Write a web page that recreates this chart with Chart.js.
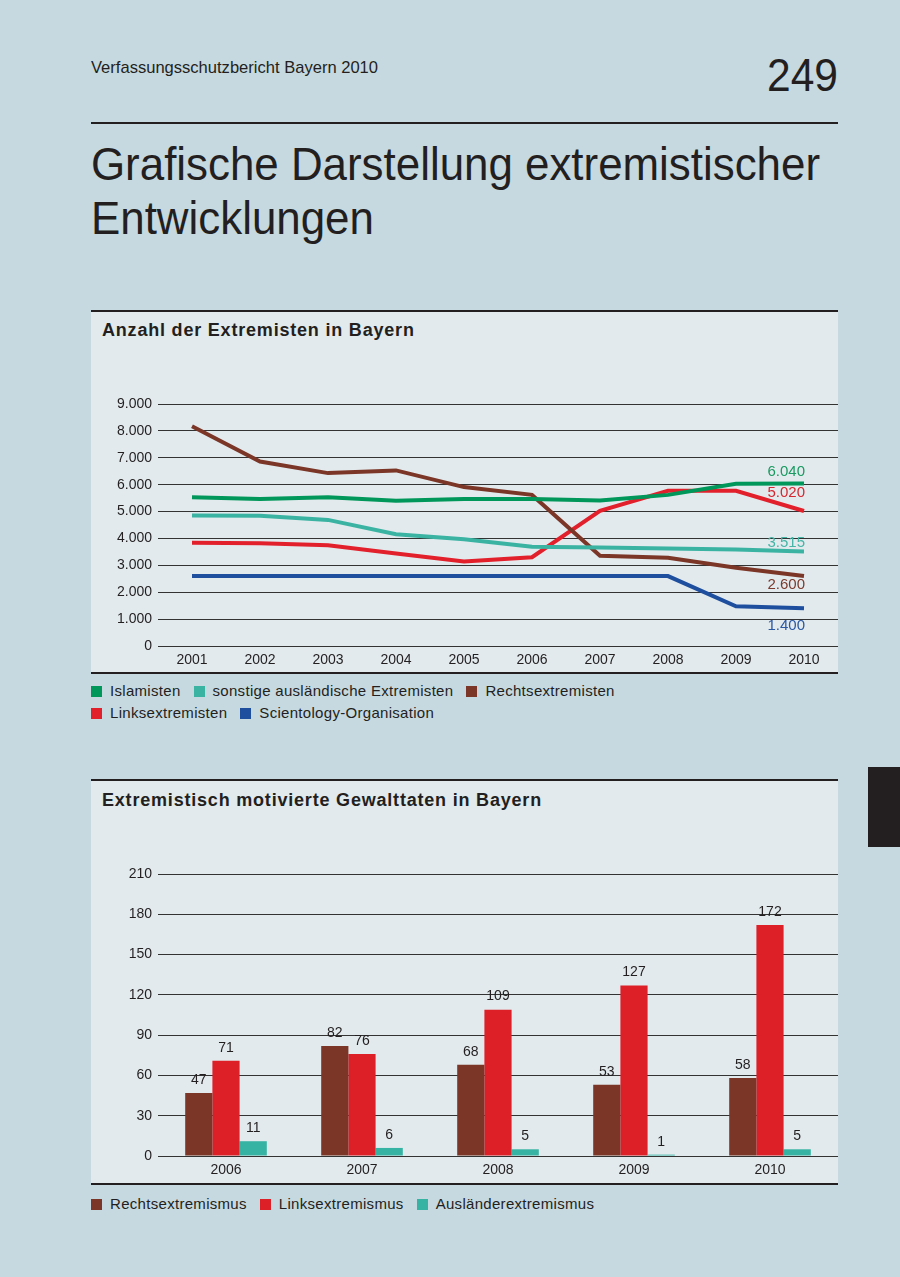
<!DOCTYPE html>
<html lang="de">
<head>
<meta charset="utf-8">
<title>Grafische Darstellung extremistischer Entwicklungen</title>
<script src="https://cdn.jsdelivr.net/npm/chart.js@4.4.0/dist/chart.umd.min.js"></script>
<style>
  html, body { margin: 0; padding: 0; }
  body {
    width: 900px; height: 1277px; position: relative; overflow: hidden;
    background: #c6d9e0; color: #231f20;
    font-family: "Liberation Sans", Arial, sans-serif;
  }
  .abs { position: absolute; }
  .fit { transform-origin: 0 0; white-space: nowrap; }
  #header { left: 91px; top: 58px; font-size: 17px; }
  #pageno { left: 767px; top: 50px; font-size: 47px; line-height: 50px; }
  #rule { left: 91px; top: 122px; width: 747px; height: 2px; background: #231f20; }
  #title { left: 91px; top: 137px; font-size: 46px; line-height: 54px; }
  .panel { left: 91px; width: 747px; background: #e2eaed; border-top: 2px solid #231f20; border-bottom: 2px solid #231f20; box-sizing: border-box; }
  .panel h2 { position: absolute; left: 11px; margin: 0; font-size: 18px; font-weight: bold; letter-spacing: 0.8px; white-space: nowrap; }
  .legend { left: 91px; font-size: 15px; letter-spacing: 0.3px; line-height: 22px; width: 620px; }
  .legend span.item { display: inline-block; margin-right: 13px; white-space: nowrap; }
  .legend i { display: inline-block; width: 11px; height: 11px; margin-right: 8px; vertical-align: -1px; }
  #tab { left: 868px; top: 767px; width: 32px; height: 80px; background: #231f20; }
</style>
</head>
<body>
<div id="header" class="abs fit" data-w="287">Verfassungsschutzbericht Bayern 2010</div>
<div id="pageno" class="abs fit" data-w="71">249</div>
<div id="rule" class="abs"></div>
<div id="title" class="abs fit" data-w="729"><span id="t1">Grafische Darstellung extremistischer</span><br>Entwicklungen</div>

<div class="abs panel" style="top:310px;height:364px;">
  <h2 style="top:8px;">Anzahl der Extremisten in Bayern</h2>
</div>
<div class="abs" style="left:91px;top:311px;width:747px;height:361px;"><canvas id="lineChart"></canvas></div>
<div id="legend1" class="abs legend" style="top:680px;"></div>

<div class="abs panel" style="top:779px;height:406px;">
  <h2 style="top:9px;">Extremistisch motivierte Gewalttaten in Bayern</h2>
</div>
<div class="abs" style="left:91px;top:780px;width:747px;height:403px;"><canvas id="barChart"></canvas></div>
<div id="legend2" class="abs legend" style="top:1193px;"></div>

<div id="tab" class="abs"></div>

<script>
// --- Anzahl der Extremisten ---
const years = ['2001', '2002', '2003', '2004', '2005', '2006', '2007', '2008', '2009', '2010'];
const islamisten   = [5530, 5470, 5530, 5400, 5470, 5470, 5410, 5620, 6030, 6040];
const sonstige     = [4850, 4840, 4690, 4160, 3970, 3690, 3660, 3630, 3590, 3515];
const rechts       = [8170, 6860, 6430, 6530, 5910, 5620, 3360, 3280, 2910, 2600];
const links        = [3840, 3820, 3750, 3440, 3140, 3300, 5030, 5770, 5770, 5020];
const scientology  = [2600, 2600, 2600, 2600, 2600, 2600, 2600, 2600, 1480, 1400];
const endLabels    = ['6.040', '3.515', '2.600', '5.020', '1.400'];

// --- Gewalttaten ---
const gYears = ['2006', '2007', '2008', '2009', '2010'];
const gRechts = [47, 82, 68, 53, 58];
const gLinks = [71, 76, 109, 127, 172];
const gAuslaender = [11, 6, 5, 1, 5];

const TEXT = '#231f20';
const GRID = '#333333';
const FONT = '"Liberation Sans", Arial, sans-serif';

// squeeze the header texts to look like the condensed print font
document.querySelectorAll('.fit').forEach(el => {
    const ref = el.querySelector('#t1') || el;
    const w = ref.getBoundingClientRect().width;
    el.style.transform = 'scaleX(' + (el.dataset.w / w) + ')';
});

function deNum(v) {
    return v.toLocaleString('de-DE');
}

function buildLegend(id, items, breakAfter) {
    const el = document.getElementById(id);
    items.forEach((it, i) => {
        const s = document.createElement('span');
        s.className = 'item';
        s.innerHTML = '<i style="background:' + it.color + '"></i>' + it.label;
        el.appendChild(s);
        if (i === breakAfter) el.appendChild(document.createElement('br'));
    });
}

// colored value labels at the right end of each line
const endLabelPlugin = {
    id: 'endLabels',
    afterDatasetsDraw(chart) {
        const ctx = chart.ctx;
        const dy = [-12, -9, 9, -18, 18];
        ctx.save();
        ctx.font = '15px ' + FONT;
        ctx.textAlign = 'right';
        ctx.textBaseline = 'middle';
        chart.data.datasets.forEach((ds, i) => {
            const pts = chart.getDatasetMeta(i).data;
            const p = pts[pts.length - 1];
            ctx.fillStyle = ds.labelColor;
            ctx.fillText(endLabels[i], p.x + 1, p.y + dy[i]);
        });
        ctx.restore();
    }
};

// numbers on top of the bars
const barValuePlugin = {
    id: 'barValues',
    afterDatasetsDraw(chart) {
        const ctx = chart.ctx;
        ctx.save();
        ctx.font = '14px ' + FONT;
        ctx.fillStyle = TEXT;
        ctx.textAlign = 'center';
        ctx.textBaseline = 'bottom';
        chart.data.datasets.forEach((ds, i) => {
            chart.getDatasetMeta(i).data.forEach((bar, j) => {
                ctx.fillText(ds.data[j], bar.x, bar.y - 6);
            });
        });
        ctx.restore();
    }
};

const lineSeries = [
    { label: 'Islamisten', data: islamisten, color: '#00975a', labelColor: '#1a9a60' },
    { label: 'sonstige ausländische Extremisten', data: sonstige, color: '#3bb3a3', labelColor: '#45b5a6' },
    { label: 'Rechtsextremisten', data: rechts, color: '#7b3627', labelColor: '#7b3a2c' },
    { label: 'Linksextremisten', data: links, color: '#e2202c', labelColor: '#d8262f' },
    { label: 'Scientology-Organisation', data: scientology, color: '#1e4f9f', labelColor: '#2a58a3' }
];

new Chart(document.getElementById('lineChart'), {
    type: 'line',
    data: {
        labels: years,
        datasets: lineSeries.map(s => ({
            label: s.label,
            data: s.data,
            borderColor: s.color,
            backgroundColor: s.color,
            labelColor: s.labelColor,
            borderWidth: 4,
            pointRadius: 0,
            tension: 0,
            fill: false
        }))
    },
    options: {
        responsive: true,
        maintainAspectRatio: false,
        animation: false,
        layout: { padding: { top: 93, left: 0, right: 0, bottom: 0 } },
        plugins: { legend: { display: false }, tooltip: { enabled: false } },
        scales: {
            x: {
                offset: true,
                grid: { display: false },
                border: { display: false },
                ticks: { color: TEXT, font: { size: 14, family: FONT }, padding: -2, maxRotation: 0 },
                afterFit(scale) { scale.height = 26; }
            },
            y: {
                min: 0, max: 9000,
                grid: { color: GRID, lineWidth: 1, drawTicks: false },
                border: { display: false },
                ticks: { stepSize: 1000, color: TEXT, font: { size: 14, family: FONT }, padding: 6, callback: v => deNum(v) },
                afterFit(scale) { scale.width = 67; }
            }
        }
    },
    plugins: [endLabelPlugin]
});
buildLegend('legend1', lineSeries, 2);

const barSeries = [
    { label: 'Rechtsextremismus', data: gRechts, color: '#7b3627' },
    { label: 'Linksextremismus', data: gLinks, color: '#dd1f28' },
    { label: 'Ausländerextremismus', data: gAuslaender, color: '#36b3a3' }
];

new Chart(document.getElementById('barChart'), {
    type: 'bar',
    data: {
        labels: gYears,
        datasets: barSeries.map(s => ({
            label: s.label,
            data: s.data,
            backgroundColor: s.color,
            borderWidth: 0,
            barPercentage: 1,
            categoryPercentage: 0.6
        }))
    },
    options: {
        responsive: true,
        maintainAspectRatio: false,
        animation: false,
        layout: { padding: { top: 94, left: 0, right: 0, bottom: 0 } },
        plugins: { legend: { display: false }, tooltip: { enabled: false } },
        scales: {
            x: {
                grid: { display: false },
                border: { display: false },
                ticks: { color: TEXT, font: { size: 14, family: FONT }, padding: -2, maxRotation: 0 },
                afterFit(scale) { scale.height = 27; }
            },
            y: {
                min: 0, max: 210,
                grid: { color: GRID, lineWidth: 1, drawTicks: false },
                border: { display: false },
                ticks: { stepSize: 30, color: TEXT, font: { size: 14, family: FONT }, padding: 6 },
                afterFit(scale) { scale.width = 67; }
            }
        }
    },
    plugins: [barValuePlugin]
});
buildLegend('legend2', barSeries, -1);
</script>
</body>
</html>
